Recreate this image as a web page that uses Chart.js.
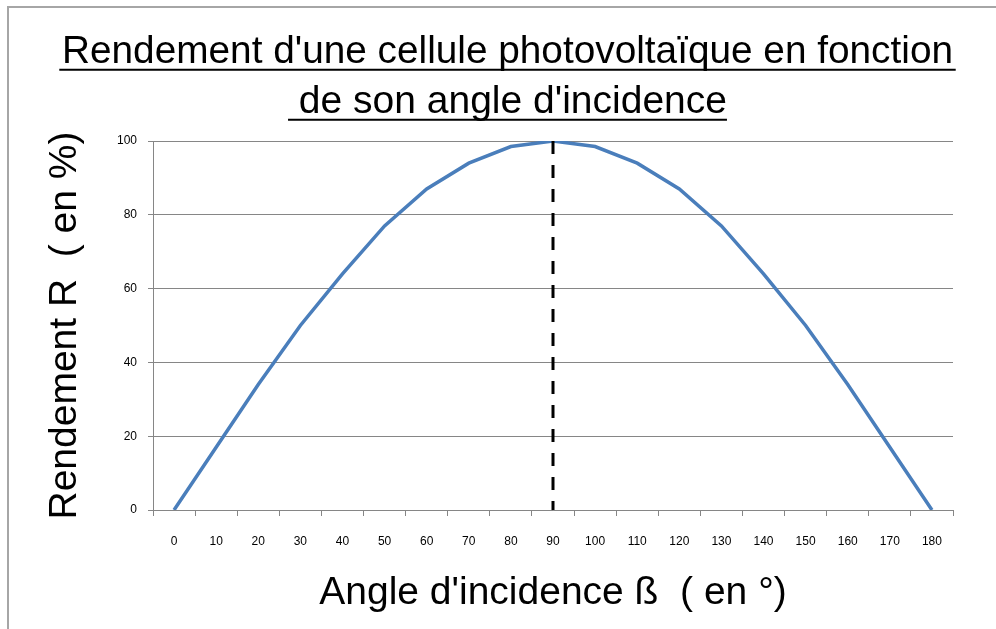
<!DOCTYPE html>
<html>
<head>
<meta charset="utf-8">
<script src="https://cdn.jsdelivr.net/npm/chart.js@4"></script>
<style>
  html, body { margin: 0; padding: 0; background: #fff; }
  #wrap { position: relative; width: 996px; height: 629px; }
  #frame { position: absolute; left: 7px; top: 6px; width: 989px; height: 623px;
           border-top: 2px solid #a6a6a6; border-left: 2px solid #a6a6a6; box-sizing: border-box; pointer-events: none; }
</style>
</head>
<body>
<div id="wrap">
  <canvas id="c" width="996" height="629"></canvas>
  <div id="frame"></div>
</div>
<script>
// ---- data ----
const angles = ['0','10','20','30','40','50','60','70','80','90','100','110','120','130','140','150','160','170','180'];
const rendement = [0, 17, 34, 50, 64, 77, 87, 94, 98.5, 100, 98.5, 94, 87, 77, 64, 50, 34, 17, 0];
const yTicks = [0, 20, 40, 60, 80, 100];
const titleLines = ["Rendement d'une cellule photovoltaïque en fonction", " de son angle d'incidence"];
const xTitle = "Angle d'incidence ß  ( en °)";
const yTitle = "Rendement R  ( en %)";
const markerAngle = '90';
const markerTop = 100;

const TITLE_SIZE = 39, TITLE_LH = 50, TITLE_PT = 27, TITLE_PB = 14;

const underlinePlugin = {
  id: 'underline',
  afterDraw(chart) {
    const tb = chart.titleBlock;
    if (!tb) return;
    const ctx = chart.ctx;
    ctx.save();
    ctx.font = TITLE_SIZE + 'px "Liberation Sans", Arial, sans-serif';
    const cx = (tb.left + tb.right) / 2;
    ctx.strokeStyle = '#000';
    ctx.lineWidth = 2;
    titleLines.forEach((t, i) => {
      const w = ctx.measureText(t).width;
      const y = tb.top + TITLE_PT + TITLE_LH * (i + 0.5) + 0.35 * TITLE_SIZE + 4;
      ctx.beginPath();
      ctx.moveTo(cx - w / 2, y);
      ctx.lineTo(cx + w / 2, y);
      ctx.stroke();
    });
    ctx.restore();
  }
};

const markerPlugin = {
  id: 'marker',
  afterDatasetsDraw(chart) {
    const xs = chart.scales.x, ys = chart.scales.y;
    const x = xs.getPixelForValue(angles.indexOf(markerAngle));
    const ctx = chart.ctx;
    ctx.save();
    ctx.strokeStyle = '#000';
    ctx.lineWidth = 3;
    ctx.setLineDash([13, 11]);
    ctx.beginPath();
    ctx.moveTo(x, ys.getPixelForValue(markerTop));
    ctx.lineTo(x, ys.getPixelForValue(0));
    ctx.stroke();
    ctx.restore();
  }
};

new Chart(document.getElementById('c'), {
  type: 'line',
  data: {
    labels: angles,
    datasets: [{
      data: rendement,
      borderColor: '#4a7ebb',
      borderWidth: 3.5,
      pointRadius: 0,
      tension: 0,
      fill: false
    }]
  },
  plugins: [underlinePlugin, markerPlugin],
  options: {
    responsive: false,
    animation: false,
    layout: { padding: { left: 62, right: 43, top: 0, bottom: 0 } },
    plugins: {
      legend: { display: false },
      tooltip: { enabled: false },
      title: {
        display: true,
        text: titleLines,
        color: '#000',
        font: { family: '"Liberation Sans", Arial, sans-serif', size: TITLE_SIZE, weight: 'normal', lineHeight: TITLE_LH / TITLE_SIZE },
        padding: { top: TITLE_PT, bottom: TITLE_PB }
      }
    },
    scales: {
      x: {
        offset: true,
        grid: { offset: true, drawOnChartArea: false, drawTicks: true, tickLength: 6, color: '#868686' },
        border: { display: true, color: '#868686', width: 1 },
        ticks: { color: '#000', font: { family: '"Liberation Sans", Arial, sans-serif', size: 12 }, padding: 18, maxRotation: 0, autoSkip: false },
        title: { display: true, text: xTitle, color: '#000',
                 font: { family: '"Liberation Sans", Arial, sans-serif', size: 39, lineHeight: 1.2 },
                 padding: { top: 0, bottom: 12 } },
        afterFit(s) { s.height = 119; }
      },
      y: {
        min: 0, max: 100,
        afterBuildTicks(s) { s.ticks = yTicks.map(v => ({ value: v })); },
        grid: { color: '#868686', drawTicks: true, tickLength: 5 },
        border: { display: true, color: '#868686', width: 1 },
        ticks: { color: '#000', font: { family: '"Liberation Sans", Arial, sans-serif', size: 12 }, padding: 11 },
        title: { display: true, text: yTitle, color: '#000',
                 font: { family: '"Liberation Sans", Arial, sans-serif', size: 39, lineHeight: 1.2 },
                 padding: { top: -20, bottom: 0 } },
        afterFit(s) { s.width = 91; }
      }
    }
  }
});
</script>
</body>
</html>
